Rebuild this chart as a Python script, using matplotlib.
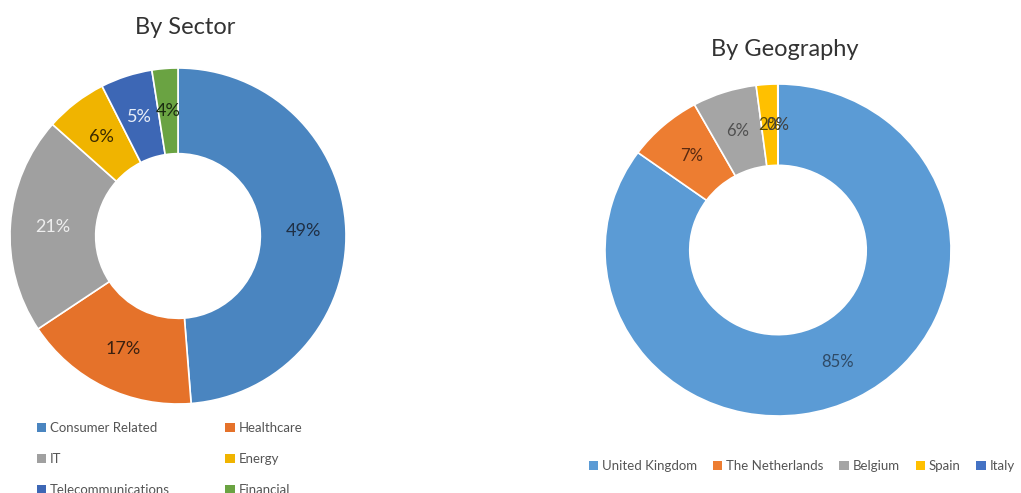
import numpy as np
import matplotlib.pyplot as plt
from matplotlib.patches import Patch

plt.rcParams["font.family"] = ["Lato", "DejaVu Sans"]

W, H = 1021, 493

# By Sector (clockwise from 12 o'clock)
sector_names = ["Consumer Related", "Healthcare", "IT", "Energy", "Telecommunications", "Financial"]
sector_sizes = [49, 17, 21, 6, 5, 2.5]
sector_labels = ["49%", "17%", "21%", "6%", "5%", "4%"]
sector_colors = ["#4a85c0", "#e5722a", "#a0a0a0", "#f0b400", "#3d67b5", "#6aa342"]
sector_text_colors = ["#1f2f44", "#3a2010", "#eeeeee", "#3a2a00", "#e8eef8", "#1a2a10"]

# By Geography
geo_names = ["United Kingdom", "The Netherlands", "Belgium", "Spain", "Italy"]
geo_sizes = [85, 7, 6, 2, 0.02]
geo_labels = ["85%", "7%", "6%", "2%", "0%"]
geo_colors = ["#5b9bd5", "#ed7d31", "#a5a5a5", "#ffc000", "#4472c4"]
geo_text_colors = ["#2f4a66", "#5a2a10", "#505050", "#5a4a00", "#404040"]


def px_axes(fig, cx, cy, rx, ry):
    # axes box in pixels around the donut centre (the right one is slightly squashed)
    return fig.add_axes([(cx - rx) / W, (H - cy - ry) / H, 2 * rx / W, 2 * ry / H])


def donut(ax, sizes, labels, colors, text_colors, hole, fontsize):
    wedges, _ = ax.pie(sizes, colors=colors, startangle=90, counterclock=False, radius=1,
                       wedgeprops=dict(width=1 - hole, edgecolor="white", linewidth=1.2))
    mid_r = (1 + hole) / 2
    for w, lab, tc in zip(wedges, labels, text_colors):
        ang = np.radians((w.theta1 + w.theta2) / 2)
        ax.text(mid_r * np.cos(ang), mid_r * np.sin(ang), lab, ha="center", va="center",
                fontsize=fontsize, color=tc)
    ax.set_aspect("auto")
    ax.set_xlim(-1, 1)
    ax.set_ylim(-1, 1)
    ax.axis("off")
    return wedges


fig = plt.figure(figsize=(W / 100, H / 100), dpi=100)
fig.patch.set_facecolor("white")

ax1 = px_axes(fig, 178, 236, 168, 168)
donut(ax1, sector_sizes, sector_labels, sector_colors, sector_text_colors, 0.49, 13)
ax2 = px_axes(fig, 778, 250, 173, 166)
donut(ax2, geo_sizes, geo_labels, geo_colors, geo_text_colors, 0.51, 12)

fig.text(185 / W, 1 - 27 / H, "By Sector", ha="center", va="center", fontsize=17, color="#333333")
fig.text(785 / W, 1 - 50 / H, "By Geography", ha="center", va="center", fontsize=17, color="#333333")

h1 = [Patch(facecolor=c, edgecolor="none") for c in sector_colors]
# order so that ncol=2 fills row-wise
order = [0, 2, 4, 1, 3, 5]
fig.legend([h1[i] for i in order], [sector_names[i] for i in order], ncol=2, frameon=False,
           loc="upper left", bbox_to_anchor=(25 / W, 1 - 410 / H), fontsize=9.5,
           handlelength=0.7, handleheight=0.7, handletextpad=0.3, columnspacing=4.2,
           labelspacing=1.45, labelcolor="#555555")

h2 = [Patch(facecolor=c, edgecolor="none") for c in geo_colors]
fig.legend(h2, geo_names, ncol=5, frameon=False, loc="center left",
           bbox_to_anchor=(577 / W, 1 - 466 / H), fontsize=9.5,
           handlelength=0.7, handleheight=0.7, handletextpad=0.3, columnspacing=1.2,
           labelcolor="#555555")

fig.savefig("out.png", dpi=100, facecolor="white")
